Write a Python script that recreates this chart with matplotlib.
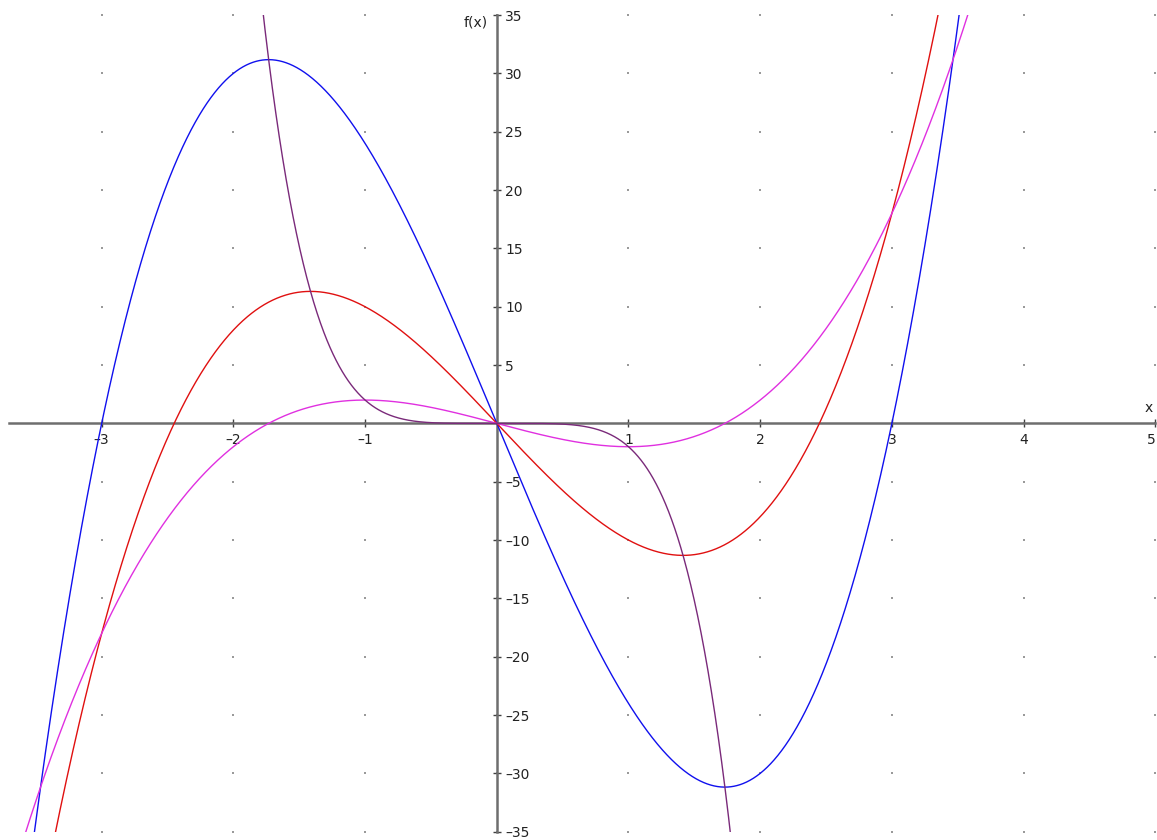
import numpy as np
import matplotlib
matplotlib.use('Agg')
import matplotlib.pyplot as plt
from matplotlib.patches import Rectangle

# polynomial coefficients (highest power first)
blue_coef = [3, 0, -27, 0]          # 3x^3 - 27x
red_coef = [2, 0, -12, 0]           # 2x^3 - 12x
magenta_coef = [1, 0, -3, 0]        # x^3 - 3x
purple_coef = [-2, 0, 0, 0, 0, 0]   # -2x^5

x_ticks = [-3, -2, -1, 1, 2, 3, 4, 5]
y_ticks = [-35, -30, -25, -20, -15, -10, -5, 5, 10, 15, 20, 25, 30, 35]
grid_x = [-3, -2, -1, 0, 1, 2, 3, 4, 5]
grid_y = [-35, -30, -25, -20, -15, -10, -5, 0, 5, 10, 15, 20, 25, 30, 35]

x_range = (-3.70, 5.0)
y_range = (-35, 35)

fig = plt.figure(figsize=(11.57, 8.40), dpi=100)
ax = fig.add_axes([0, 0, 1, 1])
ax.set_xlim(-3.772, 5.013)
ax.set_ylim(-35.71, 36.29)

# dotted grid
gx, gy = np.meshgrid(grid_x, grid_y)
ax.scatter(gx.ravel(), gy.ravel(), s=0.6, c='#9a9a9a', marker='s',
           linewidths=0, zorder=1)

clip = Rectangle((x_range[0], y_range[0]), x_range[1] - x_range[0],
                 y_range[1] - y_range[0], transform=ax.transData)

xs = np.linspace(x_range[0], x_range[1], 3000)
curves = [
    (blue_coef, '#1010ee'),
    (red_coef, '#e01010'),
    (magenta_coef, '#e030e0'),
    (purple_coef, '#7a2a7a'),
]
for coef, color in curves:
    line, = ax.plot(xs, np.polyval(coef, xs), color=color, lw=1.0, zorder=3)
    line.set_clip_path(clip)

# axes through the origin
for s in ['top', 'left']:
    ax.spines[s].set_visible(False)
ax.spines['bottom'].set_position(('data', 0))
ax.spines['right'].set_position(('data', 0))
ax.spines['bottom'].set_bounds(*x_range)
ax.spines['right'].set_bounds(*y_range)
for s in ['bottom', 'right']:
    ax.spines[s].set_color('#6e6e6e')
    ax.spines[s].set_linewidth(1.8)
    ax.spines[s].set_zorder(2)

ax.yaxis.tick_right()
ax.set_xticks(x_ticks)
ax.set_yticks(y_ticks)
ax.set_xticklabels([str(v).replace('-', '\u2013') for v in x_ticks])
ax.set_yticklabels([str(v).replace('-', '\u2013') for v in y_ticks])
ax.tick_params(axis='x', direction='inout', length=6, width=1, color='#404040',
               labelsize=10, pad=4, labelcolor='#222222')
ax.tick_params(axis='y', direction='inout', length=6, width=1, color='#404040',
               labelsize=10, pad=3, labelcolor='#222222')
# keep the last x label inside the picture
ax.get_xticklabels()[-1].set_horizontalalignment('right')

ax.text(-0.07, 34.4, 'f(x)', ha='right', va='center', fontsize=10, color='#222222')
ax.text(4.98, 1.3, 'x', ha='right', va='center', fontsize=10, color='#222222')

fig.savefig('out.png', dpi=100)
